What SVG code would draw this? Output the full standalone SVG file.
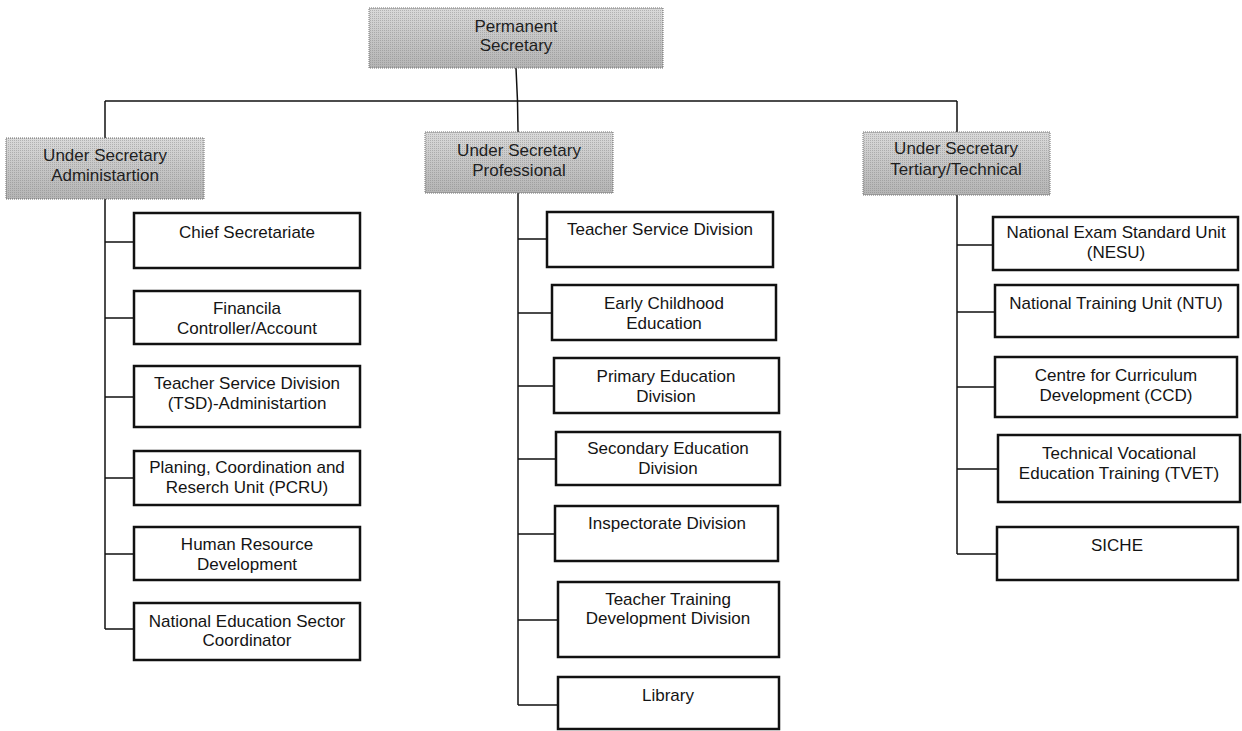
<svg xmlns="http://www.w3.org/2000/svg" width="1242" height="731" viewBox="0 0 1242 731">
  <defs>
    <linearGradient id="greyFill" x1="0" y1="0" x2="0" y2="1">
      <stop offset="0" stop-color="#dadada"/>
      <stop offset="0.5" stop-color="#c6c6c6"/>
      <stop offset="1" stop-color="#b4b4b4"/>
    </linearGradient>
    <pattern id="dots" width="2" height="2" patternUnits="userSpaceOnUse">
      <rect x="0" y="0" width="1" height="1" fill="#7a7a7a"/>
    </pattern>
  </defs>
  <style>
    .head rect.base { fill: url(#greyFill); stroke: #6e6e6e; stroke-width: 1; stroke-dasharray: 1 1; }
    .head rect.grain { fill: url(#dots); opacity: 0.4; }
    .unit rect { fill: #ffffff; stroke: #111111; stroke-width: 2.5; }
    text { font-family: "Liberation Sans", Arial, sans-serif; font-size: 17px; fill: #141414; text-anchor: middle; }
    .head text { fill: #1e1e1e; }
    #connectors path { fill: none; stroke: #111111; stroke-width: 1.5; }
  </style>

  <rect width="1242" height="731" fill="#ffffff"/>

  <!-- tree lines -->
  <g id="connectors">
    <path d="M516 68 L517.5 101 L518 132"/>
    <path d="M105 101 H957"/>
    <path d="M105 101 V138"/>
    <path d="M957 101 V132"/>
    <!-- administration branch -->
    <path d="M105 199 V629"/>
    <path d="M105 242 H134 M105 318 H134 M105 397 H134 M105 478 H134 M105 554 H134 M105 629 H134"/>
    <!-- professional branch -->
    <path d="M518 193 V705"/>
    <path d="M518 239 H547 M518 313 H552 M518 386 H554 M518 459 H556 M518 534 H555 M518 620 H558 M518 705 H558"/>
    <!-- tertiary branch -->
    <path d="M957 195 V554"/>
    <path d="M957 245 H993 M957 312 H995 M957 387 H995 M957 469 H998 M957 554 H997"/>
  </g>

  <!-- top level -->
  <g id="permanent-secretary" class="head">
    <rect class="base" x="369" y="8" width="294" height="60"/>
    <rect class="grain" x="369" y="8" width="294" height="60"/>
    <text x="516" y="32">Permanent</text>
    <text x="516" y="51">Secretary</text>
  </g>

  <!-- under secretaries -->
  <g id="us-administration" class="head">
    <rect class="base" x="6" y="138" width="198" height="61"/>
    <rect class="grain" x="6" y="138" width="198" height="61"/>
    <text x="105" y="161">Under Secretary</text>
    <text x="105" y="181">Administartion</text>
  </g>
  <g id="us-professional" class="head">
    <rect class="base" x="425" y="132" width="188" height="61"/>
    <rect class="grain" x="425" y="132" width="188" height="61"/>
    <text x="519" y="156">Under Secretary</text>
    <text x="519" y="176">Professional</text>
  </g>
  <g id="us-tertiary" class="head">
    <rect class="base" x="863" y="132" width="187" height="63"/>
    <rect class="grain" x="863" y="132" width="187" height="63"/>
    <text x="956" y="154">Under Secretary</text>
    <text x="956" y="175">Tertiary/Technical</text>
  </g>

  <!-- administration units -->
  <g id="chief-secretariate" class="unit">
    <rect x="134" y="213" width="226" height="55"/>
    <text x="247" y="238">Chief Secretariate</text>
  </g>
  <g id="financial-controller" class="unit">
    <rect x="134" y="291" width="226" height="53"/>
    <text x="247" y="314">Financila</text>
    <text x="247" y="334">Controller/Account</text>
  </g>
  <g id="tsd-administration" class="unit">
    <rect x="134" y="366" width="226" height="61"/>
    <text x="247" y="389">Teacher Service Division</text>
    <text x="247" y="409">(TSD)-Administartion</text>
  </g>
  <g id="pcru" class="unit">
    <rect x="134" y="451" width="226" height="54"/>
    <text x="247" y="473">Planing, Coordination and</text>
    <text x="247" y="493">Reserch Unit (PCRU)</text>
  </g>
  <g id="human-resource" class="unit">
    <rect x="134" y="527" width="226" height="53"/>
    <text x="247" y="550">Human Resource</text>
    <text x="247" y="570">Development</text>
  </g>
  <g id="nes-coordinator" class="unit">
    <rect x="134" y="603" width="226" height="57"/>
    <text x="247" y="627">National Education Sector</text>
    <text x="247" y="646">Coordinator</text>
  </g>

  <!-- professional units -->
  <g id="teacher-service" class="unit">
    <rect x="547" y="212" width="226" height="55"/>
    <text x="660" y="235">Teacher Service Division</text>
  </g>
  <g id="early-childhood" class="unit">
    <rect x="552" y="285" width="224" height="55"/>
    <text x="664" y="309">Early Childhood</text>
    <text x="664" y="329">Education</text>
  </g>
  <g id="primary" class="unit">
    <rect x="554" y="358" width="225" height="55"/>
    <text x="666" y="382">Primary Education</text>
    <text x="666" y="402">Division</text>
  </g>
  <g id="secondary" class="unit">
    <rect x="556" y="432" width="224" height="53"/>
    <text x="668" y="454">Secondary Education</text>
    <text x="668" y="474">Division</text>
  </g>
  <g id="inspectorate" class="unit">
    <rect x="555" y="506" width="223" height="55"/>
    <text x="667" y="529">Inspectorate Division</text>
  </g>
  <g id="teacher-training" class="unit">
    <rect x="558" y="582" width="221" height="75"/>
    <text x="668" y="605">Teacher Training</text>
    <text x="668" y="624">Development Division</text>
  </g>
  <g id="library" class="unit">
    <rect x="558" y="677" width="221" height="52"/>
    <text x="668" y="701">Library</text>
  </g>

  <!-- tertiary units -->
  <g id="nesu" class="unit">
    <rect x="993" y="217" width="245" height="53"/>
    <text x="1116" y="238">National Exam Standard Unit</text>
    <text x="1116" y="258">(NESU)</text>
  </g>
  <g id="ntu" class="unit">
    <rect x="995" y="285" width="243" height="52"/>
    <text x="1116" y="309">National Training Unit (NTU)</text>
  </g>
  <g id="ccd" class="unit">
    <rect x="995" y="357" width="242" height="60"/>
    <text x="1116" y="381">Centre for Curriculum</text>
    <text x="1116" y="401">Development (CCD)</text>
  </g>
  <g id="tvet" class="unit">
    <rect x="998" y="435" width="242" height="67"/>
    <text x="1119" y="459">Technical Vocational</text>
    <text x="1119" y="479">Education Training (TVET)</text>
  </g>
  <g id="siche" class="unit">
    <rect x="997" y="527" width="241" height="53"/>
    <text x="1117" y="551">SICHE</text>
  </g>
</svg>
